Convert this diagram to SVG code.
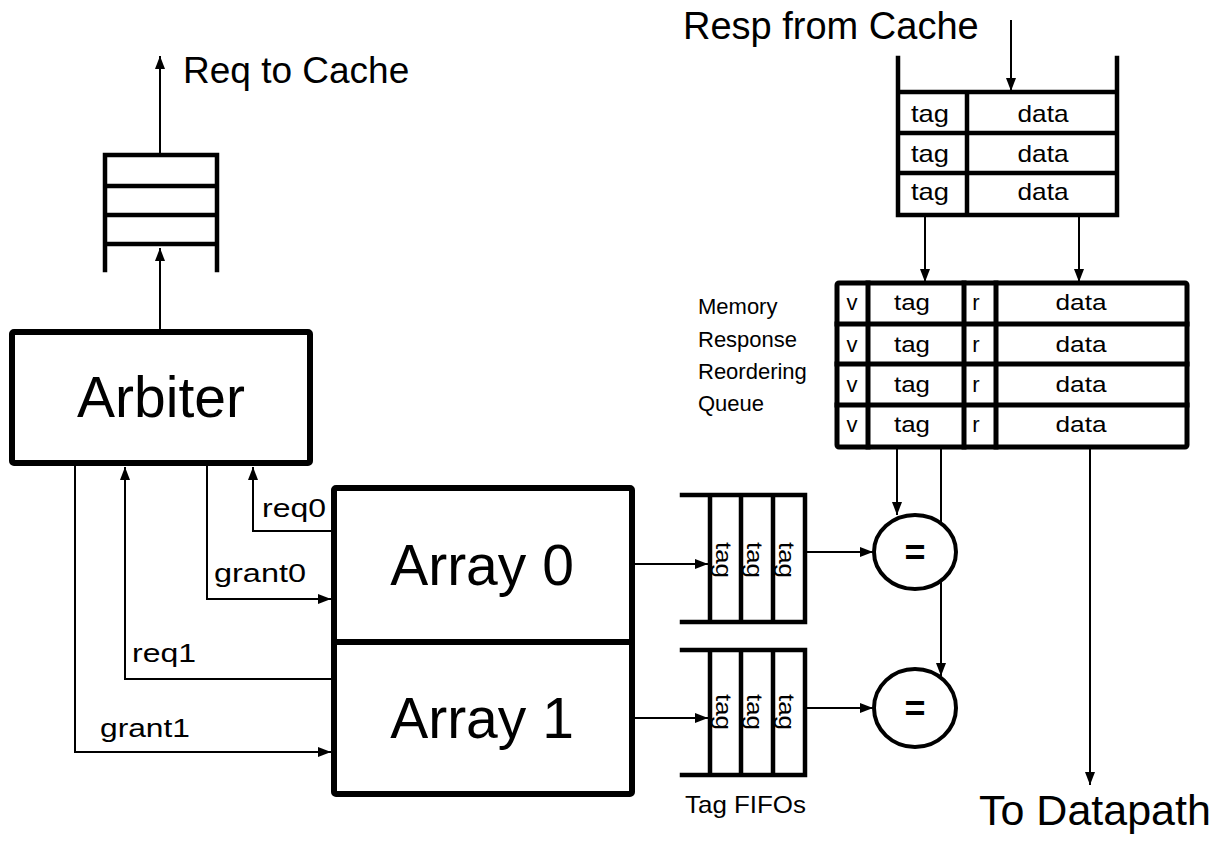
<svg xmlns="http://www.w3.org/2000/svg" width="1225" height="842" viewBox="0 0 1225 842">
<style>
text{font-family:"Liberation Sans",Arial,sans-serif;fill:#000}
.big{font-size:57px}
.lbl{font-size:25px}
.cell{font-size:22px}
.mid{text-anchor:middle}
.thick{fill:none;stroke:#000;stroke-width:6;stroke-linejoin:round}
.q{fill:none;stroke:#000;stroke-width:4.5;stroke-linecap:square}
.w{stroke:#000;stroke-width:2;fill:none}
.eq{fill:#fff;stroke:#000;stroke-width:4}
</style>
<defs>
<marker id="ah" markerUnits="userSpaceOnUse" markerWidth="14" markerHeight="10" refX="13" refY="5" orient="auto">
<path d="M0,0 L13,5 L0,10 z" fill="#000"/>
</marker>
</defs>
<rect width="1225" height="842" fill="#fff"/>

<g id="connectors">
<path class="w" d="M160,155 V56" marker-end="url(#ah)"/>
<path class="w" d="M160,330 V248" marker-end="url(#ah)"/>
<path class="w" d="M75,466 V752 H331" marker-end="url(#ah)"/>
<path class="w" d="M332,679 H125 V467" marker-end="url(#ah)"/>
<path class="w" d="M207,466 V599 H331" marker-end="url(#ah)"/>
<path class="w" d="M332,531 H253 V467" marker-end="url(#ah)"/>
<path class="w" d="M635,564 H708" marker-end="url(#ah)"/>
<path class="w" d="M635,718 H708" marker-end="url(#ah)"/>
<path class="w" d="M805,552 H873" marker-end="url(#ah)"/>
<path class="w" d="M805,708 H873" marker-end="url(#ah)"/>
<path class="w" d="M897,449 V515" marker-end="url(#ah)"/>
<path class="w" d="M941,449 V676" marker-end="url(#ah)"/>
<path class="w" d="M1090,449 V785" marker-end="url(#ah)"/>
<path class="w" d="M925,217 V282" marker-end="url(#ah)"/>
<path class="w" d="M1079,217 V282" marker-end="url(#ah)"/>
<path class="w" d="M1011,20 V91" marker-end="url(#ah)"/>
</g>

<g id="req-queue">
<path class="q" d="M105,270 V155 H217 V270 M105,186 H217 M105,215 H217 M105,244 H217"/>
</g>
<text x="183" y="83" style="font-size:37px">Req to Cache</text>

<g id="arbiter">
<rect x="12" y="332" width="298" height="131" rx="2" class="thick" fill="#fff"/>
<text x="161" y="417" class="big mid">Arbiter</text>
</g>

<g id="arrays">
<rect x="334" y="488" width="298" height="306" rx="2" class="thick"/>
<path class="thick" d="M334,642 H632"/>
<text x="482" y="585" class="big mid">Array 0</text>
<text x="482" y="738" class="big mid">Array 1</text>
</g>

<g id="labels">
<text x="262" y="517" class="lbl" textLength="64" lengthAdjust="spacingAndGlyphs">req0</text>
<text x="214" y="582" class="lbl" textLength="92" lengthAdjust="spacingAndGlyphs">grant0</text>
<text x="132" y="662" class="lbl" textLength="64" lengthAdjust="spacingAndGlyphs">req1</text>
<text x="100" y="737" class="lbl" textLength="90" lengthAdjust="spacingAndGlyphs">grant1</text>
</g>

<g id="tag-fifo-0">
<path class="q" d="M682,495 H805 V622 H682 M710,495 V622 M741,495 V622 M773,495 V622"/>
<text class="cell mid" transform="translate(716,560) rotate(90)" textLength="36" lengthAdjust="spacingAndGlyphs">tag</text>
<text class="cell mid" transform="translate(747,560) rotate(90)" textLength="36" lengthAdjust="spacingAndGlyphs">tag</text>
<text class="cell mid" transform="translate(779,560) rotate(90)" textLength="36" lengthAdjust="spacingAndGlyphs">tag</text>
</g>
<g id="tag-fifo-1">
<path class="q" d="M682,650 H805 V775 H682 M710,650 V775 M741,650 V775 M773,650 V775"/>
<text class="cell mid" transform="translate(716,712) rotate(90)" textLength="36" lengthAdjust="spacingAndGlyphs">tag</text>
<text class="cell mid" transform="translate(747,712) rotate(90)" textLength="36" lengthAdjust="spacingAndGlyphs">tag</text>
<text class="cell mid" transform="translate(779,712) rotate(90)" textLength="36" lengthAdjust="spacingAndGlyphs">tag</text>
</g>
<text x="685" y="813" style="font-size:24px" textLength="121" lengthAdjust="spacingAndGlyphs">Tag FIFOs</text>

<g id="cmp-0">
<ellipse cx="915" cy="552" rx="41" ry="37" class="eq"/>
<text x="915" y="565" class="mid" style="font-size:36px;font-weight:bold">=</text>
</g>
<g id="cmp-1">
<ellipse cx="915" cy="708" rx="41" ry="39" class="eq"/>
<text x="915" y="721" class="mid" style="font-size:36px;font-weight:bold">=</text>
</g>

<g id="resp-queue" style="font-size:24px">
<path class="q" d="M898,58 V215 H1117 V58 M898,92 H1117 M898,133 H1117 M898,173 H1117 M967,92 V215"/>
<text x="930" y="122" class="mid" textLength="38" lengthAdjust="spacingAndGlyphs">tag</text>
<text x="1043" y="122" class="mid" textLength="51" lengthAdjust="spacingAndGlyphs">data</text>
<text x="930" y="162" class="mid" textLength="38" lengthAdjust="spacingAndGlyphs">tag</text>
<text x="1043" y="162" class="mid" textLength="51" lengthAdjust="spacingAndGlyphs">data</text>
<text x="930" y="200" class="mid" textLength="38" lengthAdjust="spacingAndGlyphs">tag</text>
<text x="1043" y="200" class="mid" textLength="51" lengthAdjust="spacingAndGlyphs">data</text>
</g>
<text x="683" y="39" style="font-size:38px">Resp from Cache</text>

<g id="reorder-queue">
<rect x="837" y="283" width="350" height="164" rx="2" class="q" style="stroke-width:5"/>
<path class="q" style="stroke-width:5" d="M837,324 H1187 M837,364 H1187 M837,405 H1187 M868,283 V447 M964,283 V447 M996,283 V447"/>
<text x="852" y="310" class="cell mid">v</text><text x="912" y="310" class="cell mid" textLength="36" lengthAdjust="spacingAndGlyphs">tag</text><text x="976" y="310" class="cell mid">r</text><text x="1081" y="310" class="cell mid" textLength="51" lengthAdjust="spacingAndGlyphs">data</text>
<text x="852" y="352" class="cell mid">v</text><text x="912" y="352" class="cell mid" textLength="36" lengthAdjust="spacingAndGlyphs">tag</text><text x="976" y="352" class="cell mid">r</text><text x="1081" y="352" class="cell mid" textLength="51" lengthAdjust="spacingAndGlyphs">data</text>
<text x="852" y="392" class="cell mid">v</text><text x="912" y="392" class="cell mid" textLength="36" lengthAdjust="spacingAndGlyphs">tag</text><text x="976" y="392" class="cell mid">r</text><text x="1081" y="392" class="cell mid" textLength="51" lengthAdjust="spacingAndGlyphs">data</text>
<text x="852" y="432" class="cell mid">v</text><text x="912" y="432" class="cell mid" textLength="36" lengthAdjust="spacingAndGlyphs">tag</text><text x="976" y="432" class="cell mid">r</text><text x="1081" y="432" class="cell mid" textLength="51" lengthAdjust="spacingAndGlyphs">data</text>
</g>
<g id="reorder-label" style="font-size:22px">
<text x="698" y="314">Memory</text>
<text x="698" y="347">Response</text>
<text x="698" y="379">Reordering</text>
<text x="698" y="411">Queue</text>
</g>

<text x="979" y="825" style="font-size:43px">To Datapath</text>
</svg>
